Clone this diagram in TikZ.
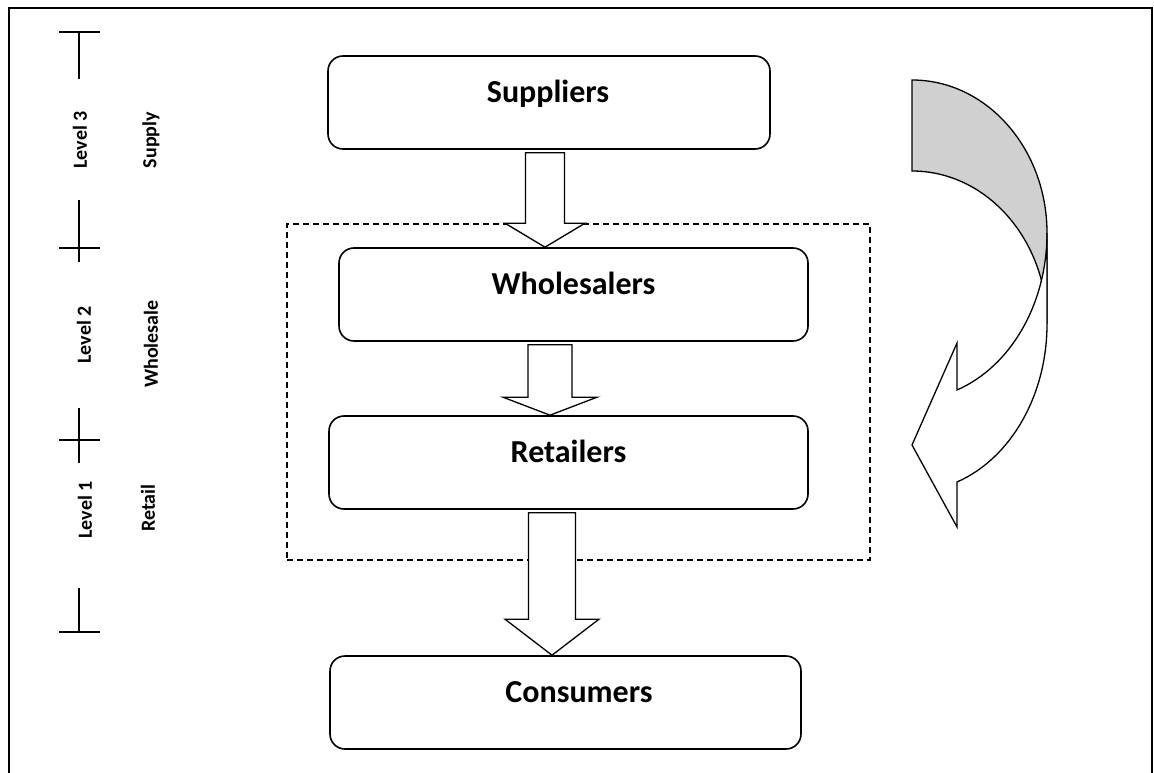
\documentclass[tikz,border=0pt]{standalone}
\usepackage{fontspec}
\setmainfont{Carlito}
\usetikzlibrary{calc}
\definecolor{backgray}{RGB}{208,208,208}
\newcommand\blockarrow[6]{% #1 source, #2 target, #3 x, #4 half shaft, #5 half head, #6 head length
  \draw[blk] let \p1=(#1.south), \p2=(#2.north) in
    (#3pt-#4pt,\y1-3pt) -- (#3pt+#4pt,\y1-3pt) -- (#3pt+#4pt,\y2+#6pt) -- (#3pt+#5pt,\y2+#6pt)
    -- (#3pt,\y2) -- (#3pt-#5pt,\y2+#6pt) -- (#3pt-#4pt,\y2+#6pt) -- cycle;}
\begin{document}
\begin{tikzpicture}[x=1pt,y=1pt,
  box/.style={draw, line width=1.6pt, rounded corners=15pt, inner sep=0pt, fill=white},
  boxtext/.style={font=\fontsize{32}{36}\selectfont\bfseries, anchor=base, inner sep=0pt},
  lvl/.style={font=\fontsize{20}{24}\selectfont\bfseries, rotate=90, inner sep=0pt},
  tickline/.style={line width=1.3pt},
  blk/.style={draw, line width=1.3pt, fill=white, line join=miter},
  dashbox/.style={draw, dash pattern=on 6pt off 4pt, line width=1.3pt, inner sep=0pt}
]
\useasboundingbox (0,0) rectangle (1154,-773);
% outer frame (open at bottom)
\draw[line width=1.6pt] (9,-773) -- (9,-8) -- (1152,-8) -- (1152,-773);

% level scale
\draw[tickline] (59,-32) -- (100,-32);
\draw[tickline] (79,-32) -- (79,-79);
\draw[tickline] (79,-200) -- (79,-262);
\draw[tickline] (59,-248) -- (100,-248);
\draw[tickline] (79,-408) -- (79,-463);
\draw[tickline] (59,-440) -- (100,-440);
\draw[tickline] (79,-588) -- (79,-632);
\draw[tickline] (59,-632) -- (100,-632);

\node[lvl] (l3) at (80,-140) {Level 3};
\node[lvl] (s3) at (151,-140) {Supply};
\node[lvl] (l2) at (84,-335) {Level 2};
\node[lvl] (s2) at (151,-344) {Wholesale};
\node[lvl] (l1) at (85,-510) {Level 1};
\node[lvl] (s1) at (148,-508) {Retail};

% dashed group
\node[dashbox, minimum width=583, minimum height=336] (grp) at (578.5,-392) {};

% boxes
\node[box, minimum width=442, minimum height=93] (sup) at (549,-102.5) {};
\node[box, minimum width=469, minimum height=93] (whl) at (573.5,-294.5) {};
\node[box, minimum width=479, minimum height=93] (ret) at (568.5,-462.5) {};
\node[box, minimum width=471, minimum height=93] (con) at (565.5,-702.5) {};

\node[boxtext] (tsup) at ($(sup.center)+(-1,0)$) {Suppliers};
\node[boxtext] (twhl) at ($(whl.center)+(0,0)$) {Wholesalers};
\node[boxtext] (tret) at ($(ret.center)+(0,0)$) {Retailers};
\node[boxtext] (tcon) at ($(con.center)+(13.5,0)$) {Consumers};

% block arrows
\blockarrow{sup}{whl}{545}{19.5}{40}{24}
\blockarrow{whl}{ret}{550}{22}{47}{18}
\blockarrow{ret}{con}{552}{23.5}{47}{36}

% curved arrow: back face
\draw[line width=1.3pt, fill=backgray]
  (912,-80) arc[start angle=90, end angle=0, x radius=135, y radius=153]
  -- (1047,-324) arc[start angle=0, end angle=90, x radius=135, y radius=153]
  -- cycle;
% curved arrow: front face
\draw[line width=1.3pt, fill=white, line join=miter]
  (1047,-233) arc[start angle=0, end angle=-70.53, x radius=135, y radius=166.5]
  -- (957,-343) -- (912,-445) -- (957,-527) -- (957,-482)
  arc[start angle=-70.53, end angle=0, x radius=135, y radius=167.6]
  -- cycle;
\end{tikzpicture}
\end{document}
